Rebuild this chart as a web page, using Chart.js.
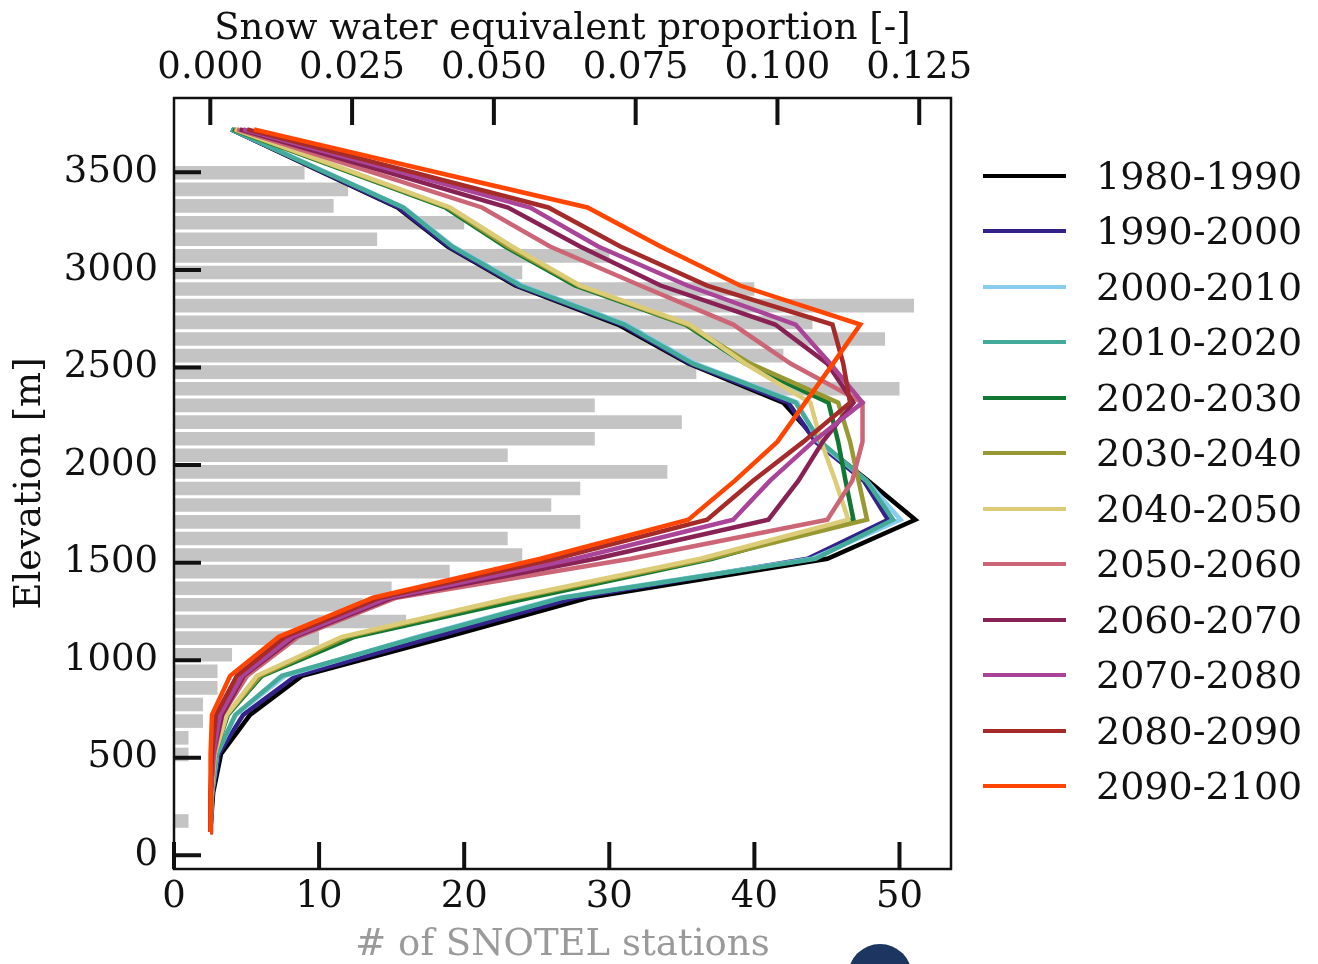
<!DOCTYPE html>
<html>
<head>
<meta charset="utf-8">
<title>SWE proportion by elevation</title>
<script src="https://cdn.jsdelivr.net/npm/chart.js@4.4.1/dist/chart.umd.min.js"></script>
<style>
  html, body { margin: 0; padding: 0; background: #fff; }
  #wrap { position: relative; width: 1318px; height: 964px; overflow: hidden; }
  #chart { display: block; }
  .legend-item { position: absolute; left: 983px; height: 50px; display: flex; align-items: center; }
  .legend-line { width: 83px; height: 4px; }
  .legend-text { margin-left: 30px; font: 38px "DejaVu Serif", serif; color: #111; white-space: nowrap; }
  #badge { position: absolute; left: 848px; top: 944px; width: 64px; height: 64px; border-radius: 50%; background: #1c3561; }
</style>
</head>
<body>
<div id="wrap">
  <canvas id="chart" width="1318" height="964"></canvas>
  <div id="legend"></div>
  <div id="badge"></div>
</div>
<script>
// elevation of the SWE profile points [m]
const elevations = [120, 320, 520, 720, 920, 1120, 1320, 1520, 1720, 1920,
                    2120, 2320, 2520, 2720, 2920, 3120, 3320, 3520, 3720];

// SNOTEL station histogram (bin centres [m] and counts)
const binCenters = [176, 262, 347, 432, 517, 602, 688, 773, 858, 943,
                    1028, 1113, 1198, 1284, 1369, 1454, 1539, 1624, 1709, 1795,
                    1880, 1965, 2050, 2135, 2220, 2306, 2391, 2476, 2561, 2646,
                    2731, 2817, 2902, 2987, 3072, 3157, 3242, 3328, 3413, 3498];
const stationCounts = [1, 0, 0, 0, 1, 1, 2, 2, 3, 3,
                       4, 10, 16, 13, 15, 19, 24, 23, 28, 26,
                       28, 34, 23, 29, 35, 29, 50, 36, 42, 49,
                       44, 51, 40, 24, 30, 14, 20, 11, 12, 9];

// tick labels
const elevationTicks = [0, 500, 1000, 1500, 2000, 2500, 3000, 3500];
const sweTicks = [0.000, 0.025, 0.050, 0.075, 0.100, 0.125];
const stationTicks = [0, 10, 20, 30, 40, 50];

const periods = ["1980-1990", "1990-2000", "2000-2010", "2010-2020", "2020-2030", "2030-2040",
                 "2040-2050", "2050-2060", "2060-2070", "2070-2080", "2080-2090", "2090-2100"];
const colors = ["#000000", "#332288", "#88ccee", "#44aa99", "#117733", "#999933",
                "#ddcc77", "#cc6677", "#882255", "#aa4499", "#a52a2a", "#ff4500"];

// SWE proportion per elevation point, one list per decade
const swe_1980_1990 = [0.0000, 0.0005, 0.0019, 0.0070, 0.0162, 0.0418, 0.0666, 0.1088, 0.1243, 0.1160, 0.1072, 0.1010, 0.0843, 0.0719, 0.0538, 0.0418, 0.0330, 0.0183, 0.0037];
const swe_1990_2000 = [0.0000, 0.0004, 0.0015, 0.0058, 0.0151, 0.0396, 0.0643, 0.1053, 0.1195, 0.1152, 0.1067, 0.1019, 0.0846, 0.0725, 0.0541, 0.0421, 0.0332, 0.0185, 0.0037];
const swe_2000_2010 = [0.0000, 0.0003, 0.0012, 0.0045, 0.0132, 0.0366, 0.0617, 0.1061, 0.1217, 0.1157, 0.1072, 0.1035, 0.0855, 0.0734, 0.0550, 0.0428, 0.0341, 0.0190, 0.0038];
const swe_2010_2020 = [0.0000, 0.0003, 0.0012, 0.0044, 0.0126, 0.0370, 0.0621, 0.1067, 0.1204, 0.1157, 0.1076, 0.1032, 0.0851, 0.0730, 0.0546, 0.0426, 0.0340, 0.0188, 0.0037];
const swe_2020_2030 = [0.0000, 0.0002, 0.0008, 0.0031, 0.0091, 0.0255, 0.0564, 0.0885, 0.1134, 0.1120, 0.1107, 0.1090, 0.0943, 0.0838, 0.0643, 0.0520, 0.0414, 0.0227, 0.0040];
const swe_2030_2040 = [0.0000, 0.0002, 0.0008, 0.0029, 0.0088, 0.0241, 0.0541, 0.0878, 0.1158, 0.1143, 0.1128, 0.1107, 0.0952, 0.0841, 0.0649, 0.0525, 0.0419, 0.0231, 0.0042];
const swe_2040_2050 = [0.0000, 0.0002, 0.0008, 0.0029, 0.0082, 0.0232, 0.0532, 0.0864, 0.1125, 0.1102, 0.1077, 0.1058, 0.0943, 0.0846, 0.0652, 0.0532, 0.0423, 0.0234, 0.0044];
const swe_2050_2060 = [0.0000, 0.0001, 0.0007, 0.0021, 0.0065, 0.0155, 0.0328, 0.0741, 0.1088, 0.1132, 0.1150, 0.1150, 0.1023, 0.0922, 0.0758, 0.0599, 0.0479, 0.0264, 0.0047];
const swe_2060_2070 = [0.0000, 0.0001, 0.0005, 0.0021, 0.0059, 0.0149, 0.0321, 0.0679, 0.0984, 0.1037, 0.1080, 0.1134, 0.1088, 0.0996, 0.0794, 0.0652, 0.0525, 0.0289, 0.0052];
const swe_2070_2080 = [0.0000, 0.0001, 0.0005, 0.0017, 0.0056, 0.0144, 0.0313, 0.0643, 0.0922, 0.0987, 0.1063, 0.1150, 0.1093, 0.1032, 0.0841, 0.0684, 0.0564, 0.0312, 0.0058];
const swe_2080_2090 = [0.0000, 0.0000, 0.0003, 0.0010, 0.0047, 0.0132, 0.0299, 0.0608, 0.0876, 0.0957, 0.1046, 0.1128, 0.1116, 0.1097, 0.0876, 0.0723, 0.0596, 0.0331, 0.0065];
const swe_2090_2100 = [0.0000, 0.0000, 0.0001, 0.0003, 0.0035, 0.0121, 0.0287, 0.0582, 0.0843, 0.0925, 0.1000, 0.1049, 0.1098, 0.1146, 0.0934, 0.0794, 0.0665, 0.0370, 0.0077];

const sweSeries = [swe_1980_1990, swe_1990_2000, swe_2000_2010, swe_2010_2020, swe_2020_2030, swe_2030_2040,
                   swe_2040_2050, swe_2050_2060, swe_2060_2070, swe_2070_2080, swe_2080_2090, swe_2090_2100];

const FONT = "DejaVu Serif";
const TEXT = "#111";

// fix each axis box so the plot area lands where the figure has it
function fixSize(prop, size) {
    return (scale) => {
        scale[prop] = size;
        scale.paddingLeft = scale.paddingRight = scale.paddingTop = scale.paddingBottom = 0;
    };
}

function useTicks(values) {
    return (scale) => { scale.ticks = values.map((v) => ({ value: v })); };
}

// matplotlib style: inward ticks and a closed frame
const frameTicks = {
    id: "frameTicks",
    afterDatasetsDraw(chart) {
        const { ctx, chartArea: a, scales } = chart;
        const len = 27;
        ctx.save();
        ctx.strokeStyle = "#111";
        ctx.lineWidth = 4;
        ctx.beginPath();
        scales.y.ticks.forEach((t) => {
            const p = scales.y.getPixelForValue(t.value);
            ctx.moveTo(a.left, p);
            ctx.lineTo(a.left + len, p);
        });
        scales.xSwe.ticks.forEach((t) => {
            const p = scales.xSwe.getPixelForValue(t.value);
            ctx.moveTo(p, a.top);
            ctx.lineTo(p, a.top + len);
        });
        scales.xCount.ticks.forEach((t) => {
            const p = scales.xCount.getPixelForValue(t.value);
            ctx.moveTo(p, a.bottom);
            ctx.lineTo(p, a.bottom - len);
        });
        ctx.stroke();
        ctx.lineWidth = 2.5;
        ctx.strokeRect(a.left, a.top, a.right - a.left, a.bottom - a.top);
        ctx.restore();
    },
};

const lineSets = sweSeries.map((values, i) => ({
    type: "line",
    label: periods[i],
    data: values.map((v, k) => ({ x: v, y: elevations[k] })),
    indexAxis: "y",
    xAxisID: "xSwe",
    yAxisID: "y",
    borderColor: colors[i],
    borderWidth: 4.5,
    pointRadius: 0,
    tension: 0,
    fill: false,
    order: 50 - i, // later decades on top
}));

const barSet = {
    type: "bar",
    label: "stations",
    data: stationCounts.map((c, i) => ({ x: c, y: binCenters[i] })),
    indexAxis: "y",
    xAxisID: "xCount",
    yAxisID: "y",
    backgroundColor: "#c4c4c4",
    borderWidth: 0,
    grouped: false,
    categoryPercentage: 1.0,
    barPercentage: 0.82,
    order: 100,
};

const tickFont = { family: FONT, size: 37 };

new Chart(document.getElementById("chart"), {
    data: { datasets: [...lineSets, barSet] },
    options: {
        responsive: false,
        animation: false,
        devicePixelRatio: 1,
        layout: { padding: { left: 0, top: 0, bottom: 0, right: 367 } },
        plugins: { legend: { display: false }, tooltip: { enabled: false } },
        scales: {
            y: {
                type: "linear",
                position: "left",
                offset: false,
                min: -70,
                max: 3881,
                grid: { display: false, drawTicks: false },
                border: { display: false },
                ticks: { padding: 16, color: TEXT, font: tickFont, callback: (v) => String(v) },
                afterBuildTicks: useTicks(elevationTicks),
                title: { display: true, text: "Elevation [m]", color: TEXT, padding: { top: 8, bottom: 0 }, font: tickFont },
                afterFit: fixSize("width", 174),
            },
            xSwe: {
                type: "linear",
                position: "top",
                offset: false,
                min: -0.0064,
                max: 0.1306,
                grid: { display: false, drawTicks: false },
                border: { display: false },
                ticks: {
                    autoSkip: false, maxRotation: 0, padding: 7,
                    color: TEXT, font: tickFont,
                    callback: (v) => v.toFixed(3),
                },
                afterBuildTicks: useTicks(sweTicks),
                title: { display: true, text: "Snow water equivalent proportion [-]", color: TEXT, padding: { top: 7, bottom: 0 }, font: tickFont },
                afterFit: fixSize("height", 98),
            },
            xCount: {
                type: "linear",
                position: "bottom",
                offset: false,
                min: 0,
                max: 53.55,
                grid: { display: false, drawTicks: false },
                border: { display: false },
                ticks: { autoSkip: false, maxRotation: 0, padding: 6, color: TEXT, font: tickFont, callback: (v) => String(v) },
                afterBuildTicks: useTicks(stationTicks),
                title: { display: true, text: "# of SNOTEL stations", color: "#9a9a9a", padding: { top: -3, bottom: 0 }, font: { family: FONT, size: 37, lineHeight: 1 } },
                afterFit: fixSize("height", 95),
            },
        },
    },
    plugins: [frameTicks],
});

// legend on the right, built from the same period/colour lists
const legend = document.getElementById("legend");
periods.forEach((name, i) => {
    const item = document.createElement("div");
    item.className = "legend-item";
    item.style.top = (176 + i * 55.45 - 25) + "px";
    item.innerHTML = '<div class="legend-line" style="background:' + colors[i] + '"></div>' +
                     '<span class="legend-text">' + name + "</span>";
    legend.appendChild(item);
});
</script>
</body>
</html>
